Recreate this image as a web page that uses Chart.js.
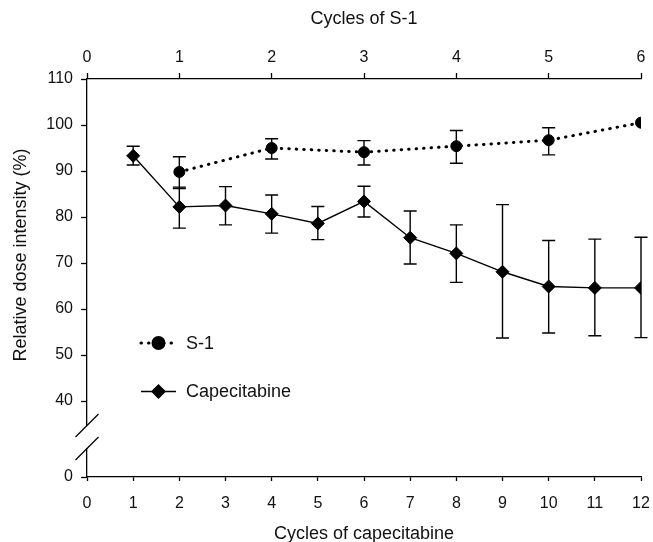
<!DOCTYPE html>
<html>
<head>
<meta charset="utf-8">
<script src="https://cdn.jsdelivr.net/npm/chart.js@4/dist/chart.umd.min.js"></script>
<style>
html,body{margin:0;padding:0;background:#fff;}
#wrap{width:653px;height:542px;position:relative;}
</style>
</head>
<body>
<div id="wrap"><canvas id="c" width="653" height="542"></canvas></div>
<script>
// ---- data ----
const capCycles = [1,2,3,4,5,6,7,8,9,10,11,12];
const capValues = [93.3, 82.2, 82.5, 80.7, 78.6, 83.4, 75.5, 72.1, 68.1, 64.9, 64.6, 64.6];
const capUpper  = [95.4, 86.5, 86.6, 84.8, 82.3, 86.7, 81.3, 78.3, 82.7, 74.9, 75.2, 75.6];
const capLower  = [91.3, 77.6, 78.3, 76.5, 75.1, 80.0, 69.8, 65.8, 53.7, 54.8, 54.2, 53.8];

const s1Cycles = [1,2,3,4,5,6];
const s1Values = [89.8, 95.0, 94.1, 95.4, 96.7, 100.5];
const s1Upper  = [93.1, 97.0, 96.6, 98.8, 99.4, null];
const s1Lower  = [86.2, 92.6, 91.3, 91.7, 93.5, null];

const yTickLabels = ['0','40','50','60','70','80','90','100','110'];
const xBottomTicks = [0,1,2,3,4,5,6,7,8,9,10,11,12];
const xTopTicks = [0,1,2,3,4,5,6];

const seriesNames = ['S-1','Capecitabine'];
const xBottomTitle = 'Cycles of capecitabine';
const xTopTitle = 'Cycles of S-1';
const yTitle = 'Relative dose intensity (%)';

// ---- axis break mapping (0 is drawn below the break) ----
const BREAK_BASE = 23.5;
const toAxis = v => (v <= 0 ? BREAK_BASE : v);
const yTickValues = yTickLabels.map(t => toAxis(parseFloat(t)));

const FONT = '"Liberation Sans", Arial, Helvetica, sans-serif';
const INK = '#111';

const errorBars = {
  id: 'errorBars',
  beforeDatasetsDraw(chart) {
    const ctx = chart.ctx;
    const yS = chart.scales.y;
    chart.data.datasets.forEach((ds) => {
      const xS = chart.scales[ds.xAxisID];
      ctx.save();
      ctx.strokeStyle = '#000';
      ctx.lineWidth = 1.4;
      ds.data.forEach((p, j) => {
        const hi = ds.errUpper[j], lo = ds.errLower[j];
        if (hi == null || lo == null) return;
        const x = xS.getPixelForValue(p.x);
        const yh = yS.getPixelForValue(hi), yl = yS.getPixelForValue(lo);
        const cw = 6.5;
        ctx.beginPath();
        ctx.moveTo(x, yh); ctx.lineTo(x, yl);
        ctx.moveTo(x - cw, yh); ctx.lineTo(x + cw, yh);
        ctx.moveTo(x - cw, yl); ctx.lineTo(x + cw, yl);
        ctx.stroke();
      });
      ctx.restore();
    });
  }
};

const decorations = {
  id: 'decorations',
  afterDraw(chart) {
    const ctx = chart.ctx;
    const yS = chart.scales.y;
    const ax = chart.chartArea.left;
    // axis break
    const b1 = yS.getPixelForValue(34.7), b2 = yS.getPixelForValue(29.7);
    ctx.save();
    ctx.fillStyle = '#fff';
    ctx.fillRect(ax - 2, b1 + 0.5, 4, b2 - b1 - 1);
    ctx.strokeStyle = '#000';
    ctx.lineWidth = 1.3;
    [b1, b2].forEach(by => {
      ctx.beginPath();
      ctx.moveTo(ax - 11.5, by + 11.5);
      ctx.lineTo(ax + 11.5, by - 11.5);
      ctx.stroke();
    });
    // y title
    ctx.fillStyle = INK;
    ctx.font = '18px ' + FONT;
    ctx.textAlign = 'center';
    ctx.textBaseline = 'middle';
    ctx.translate(21, 255);
    ctx.rotate(-Math.PI / 2);
    ctx.fillText(yTitle, 0, 0);
    ctx.restore();

    // legend
    const items = [
      {ds: chart.data.datasets[0], y: 343},
      {ds: chart.data.datasets[1], y: 391.5}
    ];
    ctx.save();
    items.forEach(it => {
      const ds = it.ds;
      ctx.strokeStyle = '#000';
      ctx.lineWidth = ds.borderWidth;
      ctx.setLineDash(ds.borderDash || []);
      ctx.lineCap = ds.borderCapStyle || 'butt';
      ctx.beginPath();
      ctx.moveTo(141, it.y); ctx.lineTo(176, it.y);
      ctx.stroke();
      ctx.setLineDash([]);
      Chart.helpers.drawPoint(ctx, {pointStyle: ds.pointStyle, radius: ds.pointRadius, rotation: 0, borderWidth: 1}, 158.5, it.y);
      ctx.fillStyle = '#000';
      ctx.fill();
      ctx.fillStyle = INK;
      ctx.font = '18px ' + FONT;
      ctx.textAlign = 'left';
      ctx.textBaseline = 'middle';
      ctx.fillText(ds.label, 186, it.y + 1);
    });
    ctx.restore();
  }
};

const tickFont = {family: FONT, size: 16};
const titleFont = {family: FONT, size: 18, lineHeight: 1};

new Chart(document.getElementById('c'), {
  type: 'line',
  data: {
    datasets: [
      {
        label: seriesNames[0],
        xAxisID: 'x2', yAxisID: 'y',
        data: s1Cycles.map((c, i) => ({x: c, y: s1Values[i]})),
        errUpper: s1Upper, errLower: s1Lower,
        borderColor: '#000', backgroundColor: '#000',
        borderWidth: 3, borderDash: [0.5, 7], borderCapStyle: 'round',
        pointStyle: 'circle', pointRadius: 5.5,
        pointBackgroundColor: '#000', pointBorderColor: '#000', pointBorderWidth: 1,
        tension: 0
      },
      {
        label: seriesNames[1],
        xAxisID: 'x', yAxisID: 'y',
        data: capCycles.map((c, i) => ({x: c, y: capValues[i]})),
        errUpper: capUpper, errLower: capLower,
        borderColor: '#000', backgroundColor: '#000',
        borderWidth: 1.4,
        pointStyle: 'rectRot', pointRadius: 6.5,
        pointBackgroundColor: '#000', pointBorderColor: '#000', pointBorderWidth: 1,
        tension: 0
      }
    ]
  },
  options: {
    responsive: false,
    animation: false,
    layout: {padding: {left: 0, right: 12, top: 0, bottom: 0}},
    plugins: {legend: {display: false}, tooltip: {enabled: false}},
    scales: {
      x: {
        type: 'linear', position: 'bottom', min: 0, max: 12,
        afterBuildTicks: s => { s.ticks = xBottomTicks.map(v => ({value: v})); },
        afterFit: s => { s.height = 65; s.paddingLeft = 0; s.paddingRight = 0; },
        ticks: {font: tickFont, color: INK, padding: 13, maxRotation: 0, autoSkip: false},
        grid: {drawOnChartArea: false, drawTicks: true, tickLength: 4, tickColor: '#000', tickWidth: 1.3},
        border: {display: true, color: '#000', width: 1.3},
        title: {display: true, text: xBottomTitle, color: INK, font: titleFont, padding: {top: 0, bottom: -1}}
      },
      x2: {
        type: 'linear', position: 'top', min: 0, max: 6,
        afterBuildTicks: s => { s.ticks = xTopTicks.map(v => ({value: v})); },
        afterFit: s => { s.height = 79; s.paddingLeft = 0; s.paddingRight = 0; },
        ticks: {font: tickFont, color: INK, padding: 6, maxRotation: 0, autoSkip: false},
        grid: {drawOnChartArea: false, drawTicks: true, tickLength: 6, tickColor: '#000', tickWidth: 1.3},
        border: {display: true, color: '#000', width: 1.3},
        title: {display: true, text: xTopTitle, color: INK, font: titleFont, padding: {top: 10, bottom: 0}}
      },
      y: {
        type: 'linear', position: 'left', min: BREAK_BASE, max: 110,
        afterBuildTicks: s => { s.ticks = yTickValues.map(v => ({value: v})); },
        afterFit: s => { s.width = 87; },
        ticks: {
          font: tickFont, color: INK, padding: 8, autoSkip: false,
          callback: (v) => yTickLabels[yTickValues.indexOf(v)]
        },
        grid: {drawOnChartArea: false, drawTicks: true, tickLength: 6, tickColor: '#000', tickWidth: 1.3},
        border: {display: true, color: '#000', width: 1.3}
      }
    }
  },
  plugins: [errorBars, decorations]
});
</script>
</body>
</html>
